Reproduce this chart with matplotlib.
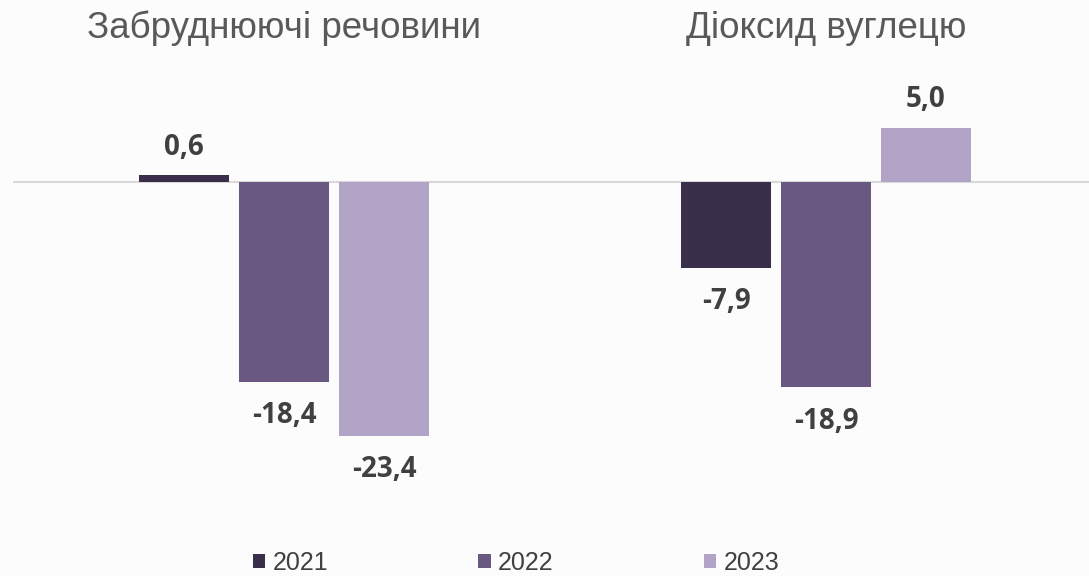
import matplotlib
matplotlib.use("Agg")
import matplotlib.pyplot as plt
import numpy as np

# data
categories = ["Забруднюючі речовини", "Діоксид вуглецю"]
years = ["2021", "2022", "2023"]
v2021 = [0.6, -7.9]
v2022 = [-18.4, -18.9]
v2023 = [-23.4, 5.0]

colors = ["#3A2F4A", "#695882", "#B2A4C6"]
BG = "#FBFCFB"
W, H = 1089, 576

fig = plt.figure(figsize=(W / 100, H / 100), dpi=100)
fig.patch.set_facecolor(BG)

# axes placed in pixel terms: x 13..1097, y 60..500 (from top)
ax = fig.add_axes([13 / W, 1 - 500 / H, 1084 / W, 440 / H])
ax.set_facecolor(BG)

px_per_unit = 10.85
ax.set_ylim(-(500 - 182) / px_per_unit, (182 - 60) / px_per_unit)
ax.set_xlim(-0.5, 1.5)

x = np.arange(len(categories))
width = 0.166
step = 0.1845
series = [v2021, v2022, v2023]
for i, (vals, yr, c) in enumerate(zip(series, years, colors)):
    bars = ax.bar(x + (i - 1) * step, vals, width, color=c, label=yr, zorder=2)
    for b, v in zip(bars, vals):
        off = 28 if v >= 0 else -34
        ax.annotate(f"{v:.1f}".replace(".", ","),
                    (b.get_x() + b.get_width() / 2, v),
                    xytext=(0, off * 0.72), textcoords="offset points",
                    ha="center", va="center", fontsize=20,
                    fontweight="bold", family="Open Sans", color="#404040")

ax.axhline(0, color="#D9D9D9", lw=1.5, zorder=1)

for xi, cat in zip(x, categories):
    ax.text(xi, 1 + 32 / 440, cat, transform=ax.get_xaxis_transform(),
            ha="center", va="center", fontsize=26.5, family="Liberation Sans",
            color="#595959")

for s in ax.spines.values():
    s.set_visible(False)
ax.set_xticks([])
ax.set_yticks([])

leg = fig.legend(loc="center", bbox_to_anchor=(516 / W, 1 - 563 / H), ncol=3,
                 frameon=False, handlelength=0.5, handleheight=0.5,
                 handletextpad=0.3, columnspacing=6.0,
                 prop={"family": "Liberation Sans", "size": 18})
for t in leg.get_texts():
    t.set_color("#404040")

fig.savefig("out.png", dpi=100, facecolor=BG)
